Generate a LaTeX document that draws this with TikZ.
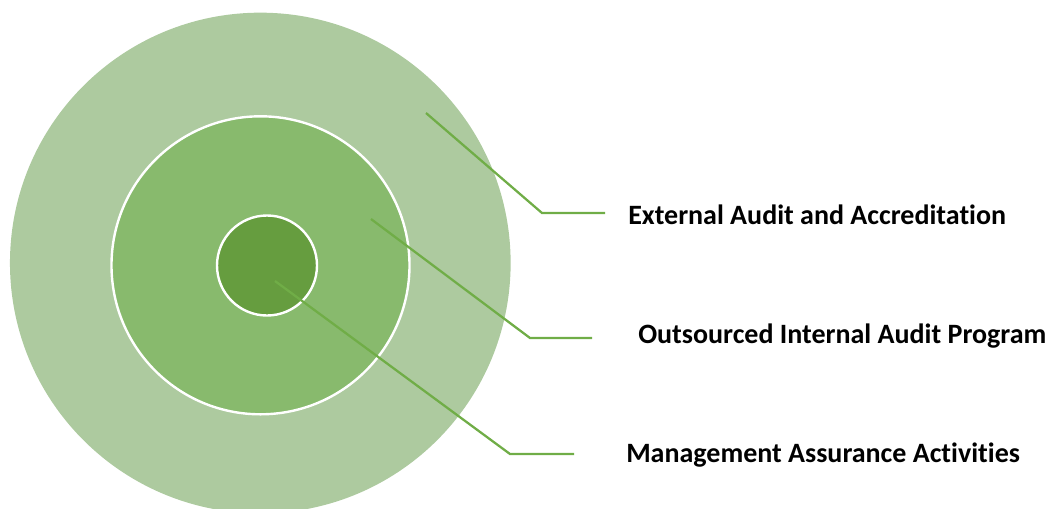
\documentclass[tikz,border=0pt]{standalone}
\usepackage{fontspec}
\setmainfont{Carlito}[Ligatures=NoCommon]
\definecolor{ringOuter}{HTML}{ADCA9F}
\definecolor{ringMid}{HTML}{88BA6D}
\definecolor{ringCore}{HTML}{669D3F}
\definecolor{leaderGreen}{HTML}{70AD47}

\begin{document}
\begin{tikzpicture}[x=0.75pt,y=-0.75pt,
    ring/.style={circle,inner sep=0pt,outer sep=0pt},
    leader/.style={leaderGreen,line width=1.7pt},
    lbl/.style={anchor=base west,inner sep=0pt,font=\fontsize{21}{25}\selectfont\bfseries}]
  \useasboundingbox (0,0) rectangle (1050,508);
  \node[ring,fill=ringOuter,minimum size=375.5pt] (Outer) at (260.3,263) {};
  \node[ring,fill=ringMid,draw=white,line width=1.8pt,minimum size=223.5pt] (Mid) at (260.5,265.3) {};
  \node[ring,fill=ringCore,draw=white,line width=1.8pt,minimum size=75pt] (Core) at (267,265.5) {};
  \node[lbl] (Ext) at (628,224) {External Audit and Accreditation};
  \node[lbl] (Out) at (638,343) {Outsourced Internal Audit Program};
  \node[lbl] (Mgmt) at (626,462) {Management Assurance Activities};
  \coordinate (ExtTip) at (426,113);
  \coordinate (ExtBend) at (542,213);
  \coordinate (ExtEnd) at (605,213);
  \coordinate (OutTip) at (371,219);
  \coordinate (OutBend) at (530,338);
  \coordinate (OutEnd) at (592,338);
  \coordinate (MgmtTip) at (275,281);
  \coordinate (MgmtBend) at (510,454);
  \coordinate (MgmtEnd) at (574,454);
  \draw[leader] (ExtTip) -- (ExtBend) -- (ExtEnd);
  \draw[leader] (OutTip) -- (OutBend) -- (OutEnd);
  \draw[leader] (MgmtTip) -- (MgmtBend) -- (MgmtEnd);
\end{tikzpicture}
\end{document}
